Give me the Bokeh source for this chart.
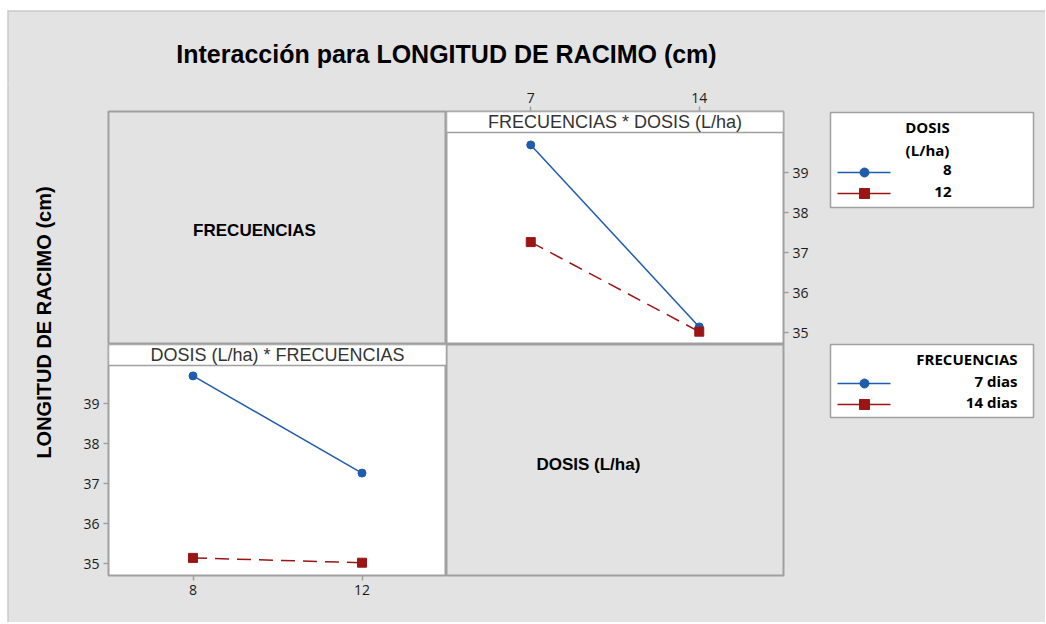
import math
from bokeh.plotting import figure
from bokeh.layouts import row, column
from bokeh.models import Range1d, FixedTicker
from bokeh.embed import file_html
from bokeh.resources import INLINE
from bokeh.core.properties import value

# ---------------- data ----------------
frecuencias = [7, 14]                 # FRECUENCIAS (dias)
dosis = [8, 12]                       # DOSIS (L/ha)
long_dosis8 = [39.69, 35.14]          # mean length, dosis 8, at frecuencia 7, 14
long_dosis12 = [37.26, 35.02]         # mean length, dosis 12, at frecuencia 7, 14
long_frec7 = [39.69, 37.26]           # mean length, 7 dias, at dosis 8, 12
long_frec14 = [35.14, 35.02]          # mean length, 14 dias, at dosis 8, 12
y_ticks = [35, 36, 37, 38, 39]
dosis_labels = ["8", "12"]
frec_labels = ["7 dias", "14 dias"]

# ---------------- style ----------------
BG = "#e3e3e3"
EDGE = "#a0a0a0"
BLUE = "#1f5cab"
RED = "#9b1515"
TXT = "#1a1a1a"
ARIAL = value("Liberation Sans")
SEGOE = value("Open Sans")
DASH = "14 8"

# page geometry (layout widths / heights)
W_YLAB, W_LEFT, W_RIGHT, W_LEG = 55, 384, 377, 222
H_TITLE, H_TOP, H_BOT = 73, 261, 278


def blank(w, h):
    p = figure(width=w, height=h, x_range=Range1d(0, w), y_range=Range1d(0, h),
               x_axis_location=None, y_axis_location=None,
               output_backend="svg", toolbar_location=None,
               border_fill_color=BG, background_fill_color=BG,
               outline_line_color=None, min_border=0)
    p.xgrid.visible = False
    p.ygrid.visible = False
    return p


def style_axis(ax):
    ax.axis_line_color = None
    ax.major_tick_line_color = EDGE
    ax.major_tick_line_width = 1.5
    ax.major_tick_out = 5
    ax.major_tick_in = 0
    ax.minor_tick_line_color = None
    ax.major_label_text_font = "Open Sans"
    ax.major_label_text_font_size = "14px"
    ax.major_label_text_color = TXT
    ax.major_label_standoff = 4


def panel(w, h, xr, yr, xloc, yloc):
    p = figure(width=w, height=h, x_range=xr, y_range=yr,
               x_axis_location=xloc, y_axis_location=yloc,
               output_backend="svg", toolbar_location=None,
               border_fill_color=BG, background_fill_color="white",
               outline_line_color=EDGE, outline_line_width=2, min_border=0)
    p.xgrid.visible = False
    p.ygrid.visible = False
    return p


def cell(w, h):
    p = figure(width=w, height=h, x_range=Range1d(0, 1), y_range=Range1d(0, 1),
               x_axis_location=None, y_axis_location=None,
               output_backend="svg", toolbar_location=None,
               border_fill_color=BG, background_fill_color=BG,
               outline_line_color=EDGE, outline_line_width=2, min_border=0)
    p.xgrid.visible = False
    p.ygrid.visible = False
    return p


# ---------------- title ----------------
W_ALL = W_YLAB + W_LEFT + W_RIGHT + W_LEG
title_fig = blank(W_ALL, H_TITLE)
title_fig.text(x=[439], y=[30], text=["Interacción para LONGITUD DE RACIMO (cm)"],
               text_align="center", text_baseline="middle", text_font=ARIAL,
               text_font_style="bold", text_font_size="25px", text_color="black")
title_fig.line(x=[0, W_ALL], y=[H_TITLE - 0.5, H_TITLE - 0.5], line_color="#c8c8c8", line_width=1.5)
title_fig.line(x=[0.5, 0.5], y=[0, H_TITLE], line_color="#c8c8c8", line_width=1.5)

# ---------------- y label ----------------
H_SIDE = H_TOP + H_BOT
ylab_fig = blank(W_YLAB, H_SIDE)
ylab_fig.text(x=[36], y=[H_SIDE - (322 - 83)], text=["LONGITUD DE RACIMO (cm)"], angle=math.pi / 2,
              text_align="center", text_baseline="middle", text_font=ARIAL,
              text_font_style="bold", text_font_size="20px", text_color="black")
ylab_fig.line(x=[0.5, 0.5], y=[0, H_SIDE], line_color="#c8c8c8", line_width=1.5)

# ---------------- top-left cell ----------------
tl = cell(W_LEFT, H_TOP)
tl.min_border_left = 46
tl.min_border_top = 28
tl.text(x=[0.432], y=[0.49], text=["FRECUENCIAS"], text_align="center",
        text_baseline="middle", text_font=ARIAL, text_font_style="bold",
        text_font_size="17px", text_color="black")

# ---------------- top-right panel: FRECUENCIAS * DOSIS ----------------
tr = panel(W_RIGHT, H_TOP, Range1d(3.5, 17.5), Range1d(34.7, 40.525), "above", "right")
tr.min_border_top = 28
tr.min_border_right = 40
tr.xaxis.ticker = FixedTicker(ticks=frecuencias)
tr.yaxis.ticker = FixedTicker(ticks=y_ticks)
for ax in tr.xaxis + tr.yaxis:
    style_axis(ax)
tr.quad(left=tr.x_range.start, right=tr.x_range.end, bottom=40.0, top=tr.y_range.end,
        fill_color="white", line_color=EDGE, line_width=1.5)
tr.text(x=[(tr.x_range.start + tr.x_range.end) / 2], y=[40.265],
        text=["FRECUENCIAS * DOSIS (L/ha)"], text_align="center", text_baseline="middle",
        text_font=ARIAL, text_font_size="18px", text_color="#333333")
tr.line(frecuencias, long_dosis8, line_color=BLUE, line_width=1.5)
tr.scatter(frecuencias, long_dosis8, marker="circle", size=8, color=BLUE)
tr.line(frecuencias, long_dosis12, line_color=RED, line_width=1.5, line_dash=DASH)
tr.scatter(frecuencias, long_dosis12, marker="square", size=9, color=RED)

# ---------------- bottom-left panel: DOSIS * FRECUENCIAS ----------------
bl = panel(W_LEFT, H_BOT, Range1d(6, 14), Range1d(34.7, 40.475), "below", "left")
bl.min_border_left = 46
bl.min_border_bottom = H_BOT - 231
bl.xaxis.ticker = FixedTicker(ticks=dosis)
bl.yaxis.ticker = FixedTicker(ticks=y_ticks)
for ax in bl.xaxis + bl.yaxis:
    style_axis(ax)
bl.quad(left=bl.x_range.start, right=bl.x_range.end, bottom=39.95, top=bl.y_range.end,
        fill_color="white", line_color=EDGE, line_width=1.5)
bl.text(x=[(bl.x_range.start + bl.x_range.end) / 2], y=[40.215],
        text=["DOSIS (L/ha) * FRECUENCIAS"], text_align="center", text_baseline="middle",
        text_font=ARIAL, text_font_size="18px", text_color="#333333")
bl.line(dosis, long_frec7, line_color=BLUE, line_width=1.5)
bl.scatter(dosis, long_frec7, marker="circle", size=8, color=BLUE)
bl.line(dosis, long_frec14, line_color=RED, line_width=1.5, line_dash=DASH)
bl.scatter(dosis, long_frec14, marker="square", size=9, color=RED)

# ---------------- bottom-right cell ----------------
br = cell(W_RIGHT, H_BOT)
br.min_border_right = 40
br.min_border_bottom = H_BOT - 231
br.text(x=[0.421], y=[0.48], text=["DOSIS (L/ha)"], text_align="center",
        text_baseline="middle", text_font=ARIAL, text_font_style="bold",
        text_font_size="17px", text_color="black")

# ---------------- legends ----------------
leg = blank(W_LEG, H_SIDE)


def lx(px):
    return px - 823


def ly(py):
    return H_SIDE - (py - 83)


def leg_text(px, py, t):
    leg.text(x=[lx(px)], y=[ly(py)], text=[t], text_align="right",
             text_baseline="middle", text_font=SEGOE, text_font_style="bold",
             text_font_size="15px", text_color="black")


def leg_sample(py, c, m, s):
    leg.line(x=[lx(837), lx(890)], y=[ly(py), ly(py)], line_color=c, line_width=1.5)
    leg.scatter(x=[lx(864)], y=[ly(py)], marker=m, size=s, color=c)


# DOSIS legend
leg.quad(left=lx(830), right=lx(1033), top=ly(112), bottom=ly(207),
         fill_color="white", line_color=EDGE, line_width=1.5)
leg.text(x=[lx(927)], y=[ly(126)], text=["DOSIS"], text_align="center", text_baseline="middle",
         text_font=SEGOE, text_font_style="bold", text_font_size="15px", text_color="black")
leg.text(x=[lx(927)], y=[ly(149)], text=["(L/ha)"], text_align="center", text_baseline="middle",
         text_font=SEGOE, text_font_style="bold", text_font_size="15px", text_color="black")
for i, (lab, c, m, s) in enumerate(zip(dosis_labels, [BLUE, RED], ["circle", "square"], [9, 10])):
    leg_sample(172 + 21 * i, c, m, s)
    leg_text(951, 169 + 22 * i, lab)

# FRECUENCIAS legend
leg.quad(left=lx(830), right=lx(1033), top=ly(344), bottom=ly(417),
         fill_color="white", line_color=EDGE, line_width=1.5)
leg_text(1017, 358, "FRECUENCIAS")
for i, (lab, c, m, s) in enumerate(zip(frec_labels, [BLUE, RED], ["circle", "square"], [9, 10])):
    leg_sample(383 + 21 * i, c, m, s)
    leg_text(1017, 380 + 21 * i, lab)

bgstyle = {"background-color": BG}
layout = column(
    title_fig,
    row(ylab_fig,
        column(row(tl, tr, styles=bgstyle), row(bl, br, styles=bgstyle), styles=bgstyle),
        leg, styles=bgstyle),
    styles={"background-color": BG, "margin-left": "7px", "margin-top": "10px"},
)

open("out.html", "w").write(file_html(layout, INLINE))
